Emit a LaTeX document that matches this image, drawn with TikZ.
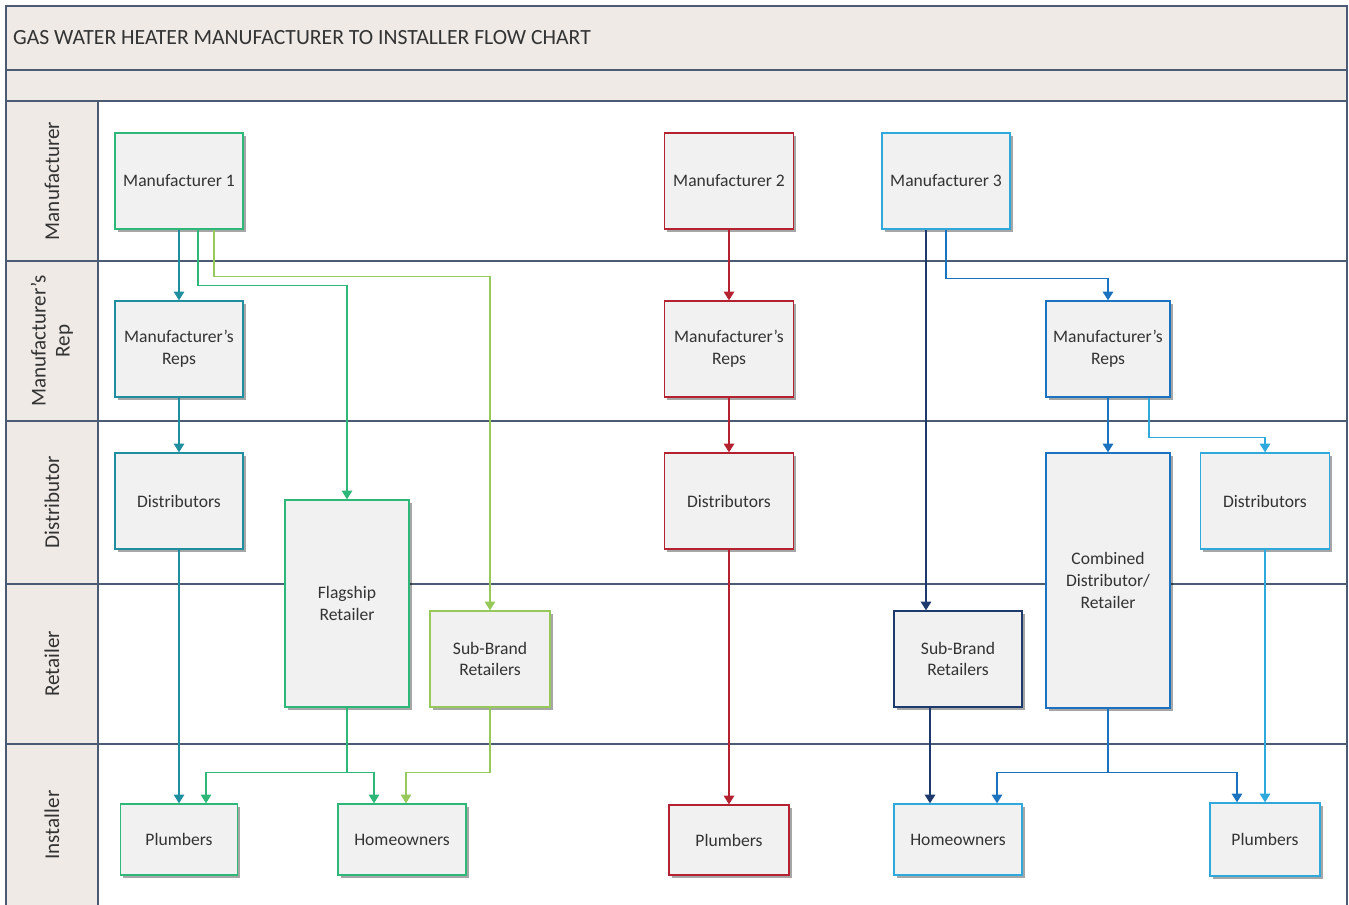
\documentclass[tikz,border=0pt]{standalone}
\usepackage{fontspec}
\setmainfont{Carlito}
\usetikzlibrary{arrows.meta,shadows}

\definecolor{grn}{HTML}{2DB87A}
\definecolor{teal1}{HTML}{1F8FA0}
\definecolor{lgrn}{HTML}{96C95A}
\definecolor{red1}{HTML}{B42130}
\definecolor{blue1}{HTML}{1B72BE}
\definecolor{lblue}{HTML}{2FA9DC}
\definecolor{navy}{HTML}{1E3A6D}
\definecolor{lanecol}{HTML}{4B5B73}
\definecolor{beige}{HTML}{EFEAE6}
\definecolor{boxgray}{HTML}{F1F1F1}
\definecolor{txtgray}{HTML}{333333}

\tikzset{
  box/.style={draw=#1, line width=1.1pt, fill=boxgray, align=center, text=txtgray,
    drop shadow={shadow xshift=2.2pt, shadow yshift=-2.2pt, fill=black, opacity=0.35},
    font=\fontsize{15}{18.5}\selectfont, inner sep=2pt},
  wh/.style 2 args={minimum width=#1*0.03cm, minimum height=#2*0.03cm},
  arr/.style={draw=#1, line width=1.3pt, -{Triangle[width=9pt,length=7.5pt]}},
  lane/.style={draw=lanecol, line width=0.9pt},
  lanelabel/.style={rotate=90, align=center, text=txtgray, font=\fontsize{18}{20.5}\selectfont}
}

\begin{document}
\begin{tikzpicture}[x=0.03cm, y=-0.03cm]
    \useasboundingbox (0,0) rectangle (1349,905);

    % Title and lanes
    \fill[beige] (6,6) rectangle (1347,101);
    \fill[beige] (6,101) rectangle (98,910);
    \node[anchor=west, text=txtgray, font=\fontsize{18.5}{22}\selectfont] (title) at (9,38) {GAS WATER HEATER MANUFACTURER TO INSTALLER FLOW CHART};
    \draw[lane] (6,70) -- (1347,70);
    \draw[lane] (6,101) -- (1347,101);
    \foreach \y in {261,421,584,744}
        \draw[lane] (6,\y) -- (1347,\y);
    \draw[lane] (98,101) -- (98,910);
    \draw[lane] (6,910) -- (6,6) -- (1347,6) -- (1347,910);

    \node[lanelabel] (lmfr) at (52,181) {Manufacturer};
    \node[lanelabel] (lrep) at (52,341) {Manufacturer’s\\Rep};
    \node[lanelabel] (ldist) at (52,502) {Distributor};
    \node[lanelabel] (lret) at (52,664) {Retailer};
    \node[lanelabel] (linst) at (52,825) {Installer};

    % Manufacturer 1
    \node[box=grn, wh={128}{96}] (m1) at (179,181) {Manufacturer 1};
    \node[box=teal1, wh={128}{96}] (r1) at (179,349) {Manufacturer’s\\Reps};
    \node[box=teal1, wh={128}{96}] (d1) at (179,501) {Distributors};
    \node[box=grn, wh={124}{207}] (flag) at (347,603.5) {Flagship\\Retailer};
    \node[box=lgrn, wh={120}{96}] (sb1) at (490,659) {Sub-Brand\\Retailers};
    \node[box=grn, wh={117}{71}] (pl1) at (179,839.5) {Plumbers};
    \node[box=grn, wh={128}{71}] (ho1) at (402,839.5) {Homeowners};

    % Manufacturer 2
    \node[box=red1, wh={129}{96}] (m2) at (729,181) {Manufacturer 2};
    \node[box=red1, wh={129}{96}] (r2) at (729,349) {Manufacturer’s\\Reps};
    \node[box=red1, wh={129}{96}] (d2) at (729,501) {Distributors};
    \node[box=red1, wh={120}{70}] (pl2) at (729,840) {Plumbers};

    % Manufacturer 3
    \node[box=lblue, wh={128}{96}] (m3) at (946,181) {Manufacturer 3};
    \node[box=blue1, wh={124}{96}] (r3) at (1108,349) {Manufacturer’s\\Reps};
    \node[box=blue1, wh={124}{255}] (cdr) at (1108,580.5) {Combined\\Distributor/\\Retailer};
    \node[box=lblue, wh={129}{96}] (d3) at (1265,501) {Distributors};
    \node[box=navy, wh={128}{96}] (sb3) at (958,659) {Sub-Brand\\Retailers};
    \node[box=lblue, wh={128}{71}] (ho3) at (958,839.5) {Homeowners};
    \node[box=lblue, wh={110}{73}] (pl3) at (1265,839.5) {Plumbers};

    % Arrows
    \draw[arr=teal1] (m1.south) -- (r1.north);
    \draw[arr=teal1] (r1.south) -- (d1.north);
    \draw[arr=teal1] (d1.south) -- (pl1.north);
    \draw[arr=grn] ([xshift=0.57cm]m1.south) -- ++(0,56) -| (flag.north);
    \draw[arr=lgrn] ([xshift=1.05cm]m1.south) -- ++(0,47) -| (sb1.north);
    \draw[arr=grn] (flag.south) -- ++(0,65) -| ([xshift=0.81cm]pl1.north);
    \draw[arr=grn] (flag.south) -- ++(0,65) -| ([xshift=-0.84cm]ho1.north);
    \draw[arr=lgrn] (sb1.south) -- ++(0,65) -| ([xshift=0.12cm]ho1.north);

    \draw[arr=red1] (m2.south) -- (r2.north);
    \draw[arr=red1] (r2.south) -- (d2.north);
    \draw[arr=red1] (d2.south) -- (pl2.north);

    \draw[arr=navy] ([xshift=-0.6cm]m3.south) -- ([xshift=-0.6cm]m3.south |- sb3.north);
    \draw[arr=blue1] (m3.south) -- ++(0,49) -| (r3.north);
    \draw[arr=blue1] (r3.south) -- (cdr.north);
    \draw[arr=lblue] ([xshift=1.23cm]r3.south) -- ++(0,40) -| (d3.north);
    \draw[arr=lblue] (d3.south) -- (pl3.north);
    \draw[arr=blue1] (cdr.south) -- ++(0,64) -| ([xshift=1.17cm]ho3.north);
    \draw[arr=blue1] (cdr.south) -- ++(0,64) -| ([xshift=-0.84cm]pl3.north);
    \draw[arr=navy] ([xshift=-0.84cm]sb3.south) -- ([xshift=-0.84cm]ho3.north);
\end{tikzpicture}
\end{document}
